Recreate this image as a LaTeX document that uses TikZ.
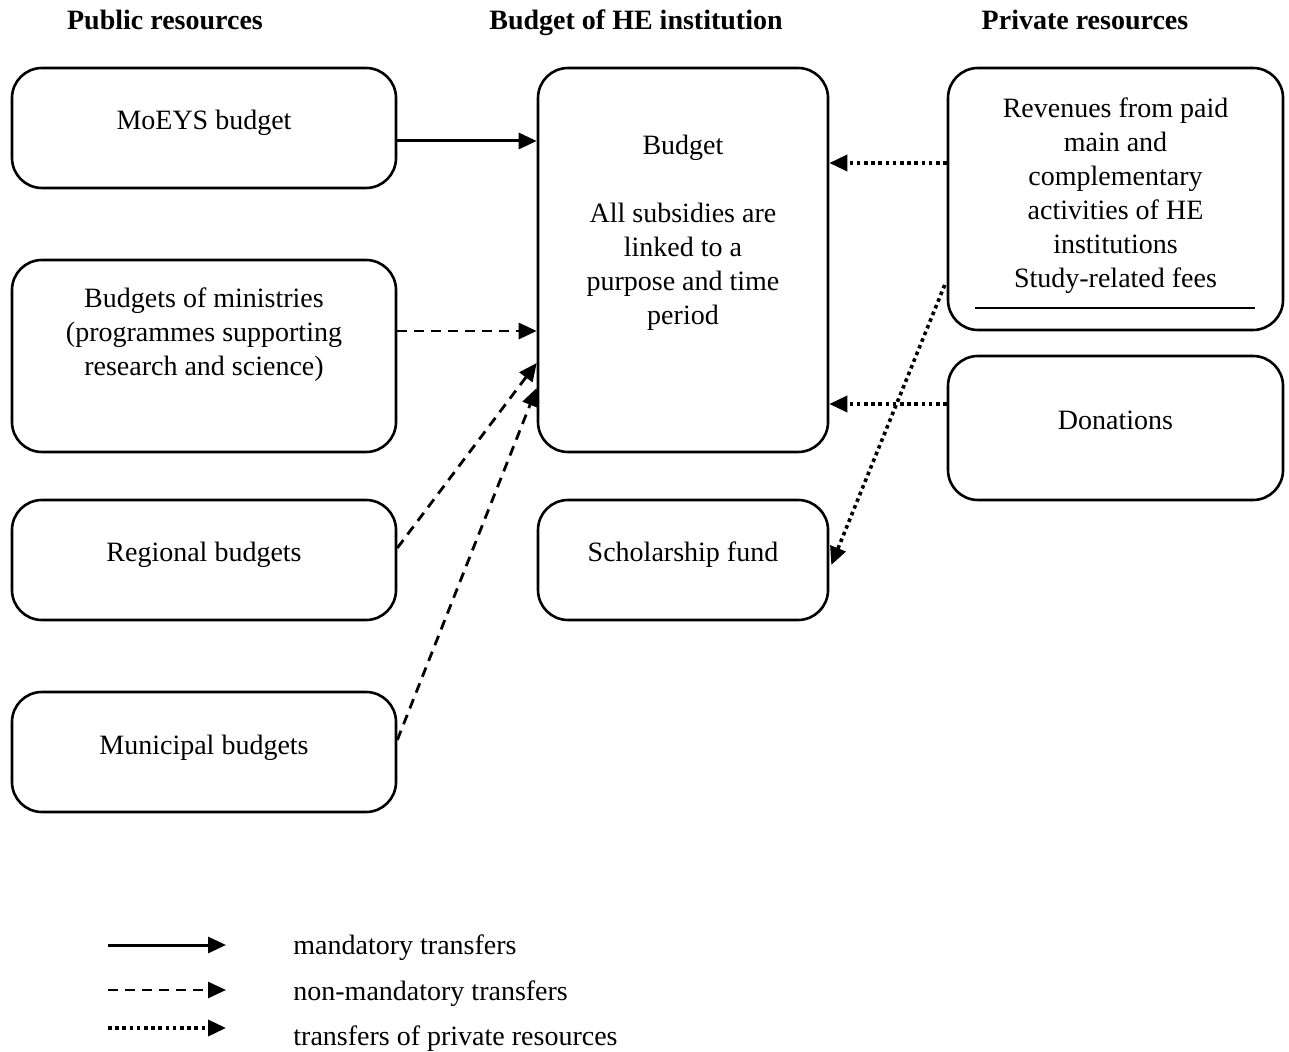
\documentclass[tikz,border=0pt]{standalone}
\usepackage{fontspec}
\setmainfont{Liberation Serif}
\usetikzlibrary{arrows.meta,calc}

\begin{document}
\begin{tikzpicture}[x=0.5pt,y=-0.5pt,
		font=\fontsize{14}{17}\selectfont,
		box/.style={draw,line width=1.3pt,rounded corners=15pt,align=center,inner sep=0pt,text height=10pt,text depth=8pt},
		txt/.style={align=center,inner sep=0pt},
		head/.style={font=\fontsize{14}{17}\selectfont\bfseries,text height=10pt,text depth=3pt},
		mand/.style={line width=1.5pt,-{Triangle[length=9pt,width=8pt]}},
		nonmand/.style={line width=1.4pt,dash pattern=on 5pt off 3.5pt,-{Triangle[length=9pt,width=8pt]}},
		priv/.style={line width=1.8pt,dash pattern=on 1.8pt off 1.8pt,-{Triangle[length=9pt,width=8pt]}}]
			\useasboundingbox (0,0) rectangle (1289,1052);
			% column heads
			\node[head] (hpub) at (165,23) {Public resources};
			\node[head] (hhe) at (636,23) {Budget of HE institution};
			\node[head] (hpriv) at (1085,23) {Private resources};
			% public resources
			\node[box,minimum width=192pt,minimum height=60pt] (moeys) at (204,128) {MoEYS budget};
			\node[box,minimum width=192pt,minimum height=96pt] (mins) at (204,356) {};
			\node[txt] (minstxt) at (204,335) {Budgets of ministries\\(programmes supporting\\research and science)};
			\node[box,minimum width=192pt,minimum height=60pt] (reg) at (204,560) {Regional budgets};
			\node[box,minimum width=192pt,minimum height=60pt] (mun) at (204,752) {Municipal budgets};
			% HE institution
			\node[box,minimum width=145pt,minimum height=192pt] (budget) at (683,260) {};
			\node[txt] (budgettxt) at (683,233) {Budget\\[17pt]All subsidies are\\linked to a\\purpose and time\\period};
			\node[box,minimum width=145pt,minimum height=60pt] (schol) at (683,560) {Scholarship fund};
			% private resources
			\node[box,minimum width=167.5pt,minimum height=131pt] (rev) at (1115.5,199) {};
			\node[txt] (revtxt) at (1115.5,196) {Revenues from paid\\main and\\complementary\\activities of HE\\institutions\\Study-related fees};
			\draw[line width=1pt] (975,308) -- (1255,308);
			\node[box,minimum width=167.5pt,minimum height=72pt] (don) at (1115.5,428) {Donations};
			% transfers
			\draw[mand] ($(moeys.east)+(0,13)$) coordinate (a1) -- (a1 -| budget.west);
			\draw[nonmand] ($(mins.east)+(0,-25)$) coordinate (a2) -- (a2 -| budget.west);
			\draw[nonmand] ($(reg.east)+(0,-12)$) -- ($(budget.west)+(0,103)$);
			\draw[nonmand] ($(mun.east)+(0,-12)$) -- ($(budget.west)+(0,128)$);
			\draw[priv] ($(rev.west)+(0,-36)$) coordinate (a3) -- (a3 -| budget.east);
			\draw[priv] ($(don.west)+(0,-24)$) coordinate (a4) -- (a4 -| budget.east);
			\draw[priv] ($(rev.west)+(-2,86)$) -- ($(schol.east)+(2,5)$);
			% legend
			\foreach \y/\s/\t in {945/mand/mandatory transfers,990/nonmand/non-mandatory transfers,1028/priv/transfers of private resources}
			{
				\coordinate (ls\y) at (108,\y);
				\coordinate (le\y) at (226,\y);
				\draw[\s] (ls\y) -- (le\y);
			}
			\node[anchor=west,inner sep=0pt] (lt1) at (293,948) {mandatory transfers};
			\node[anchor=west,inner sep=0pt] (lt2) at (293,994) {non-mandatory transfers};
			\node[anchor=west,inner sep=0pt] (lt3) at (293,1039) {transfers of private resources};
	\end{tikzpicture}
\end{document}
